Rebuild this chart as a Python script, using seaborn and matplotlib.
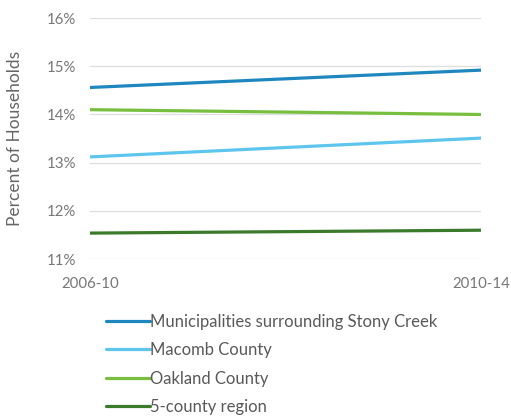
import matplotlib
matplotlib.use("Agg")
import matplotlib.pyplot as plt
import seaborn as sns
import pandas as pd
from matplotlib.ticker import FuncFormatter

periods = ["2006-10", "2010-14"]
series_names = ["Municipalities surrounding Stony Creek", "Macomb County",
                "Oakland County", "5-county region"]
municipalities = [14.56, 14.92]
macomb = [13.12, 13.51]
oakland = [14.10, 14.00]
five_county = [11.54, 11.60]
colors = ["#1f87bf", "#5ec6ee", "#78bf3f", "#3b7a2a"]

values = [municipalities, macomb, oakland, five_county]
rows = []
for name, vals in zip(series_names, values):
    for i, (p, v) in enumerate(zip(periods, vals)):
        rows.append({"period": p, "x": i, "series": name, "value": v})
df = pd.DataFrame(rows)

sns.set_theme(style="white")
plt.rcParams['font.family'] = ['Lato', 'DejaVu Sans']

fig = plt.figure(figsize=(5.11, 4.2), dpi=100)
ax = fig.add_axes([0.176, 0.383, 0.765, 0.574])

sns.lineplot(data=df, x="x", y="value", hue="series", hue_order=series_names,
             palette=colors, linewidth=2.3, ax=ax, legend=True)

ax.set_ylim(11, 16)
ax.set_xlim(0, 1)
ax.set_yticks([11, 12, 13, 14, 15, 16])
ax.yaxis.set_major_formatter(FuncFormatter(lambda v, p: f"{v:.0f}%"))
ax.set_xticks([0, 1])
ax.set_xticklabels(periods)
ax.grid(axis="y", color="#dedede", linewidth=0.9)
ax.set_axisbelow(True)
for s in ax.spines.values():
    s.set_visible(False)
ax.tick_params(axis="both", length=0, labelsize=10.8, labelcolor="#777777")
ax.tick_params(axis="y", pad=10)
ax.tick_params(axis="x", pad=13)
ax.set_xlabel("")
ax.set_ylabel("Percent of Households", fontsize=12.5, color="#666666", labelpad=17)

handles, labels = ax.get_legend_handles_labels()
ax.get_legend().remove()
leg = fig.legend(handles, labels, loc="upper left", bbox_to_anchor=(0.208, 0.253),
                 frameon=False, fontsize=12, handlelength=2.6, handletextpad=0.0,
                 labelspacing=0.75, borderaxespad=0, borderpad=0)
for t in leg.get_texts():
    t.set_color("#595959")

fig.savefig("out.png", dpi=100)
